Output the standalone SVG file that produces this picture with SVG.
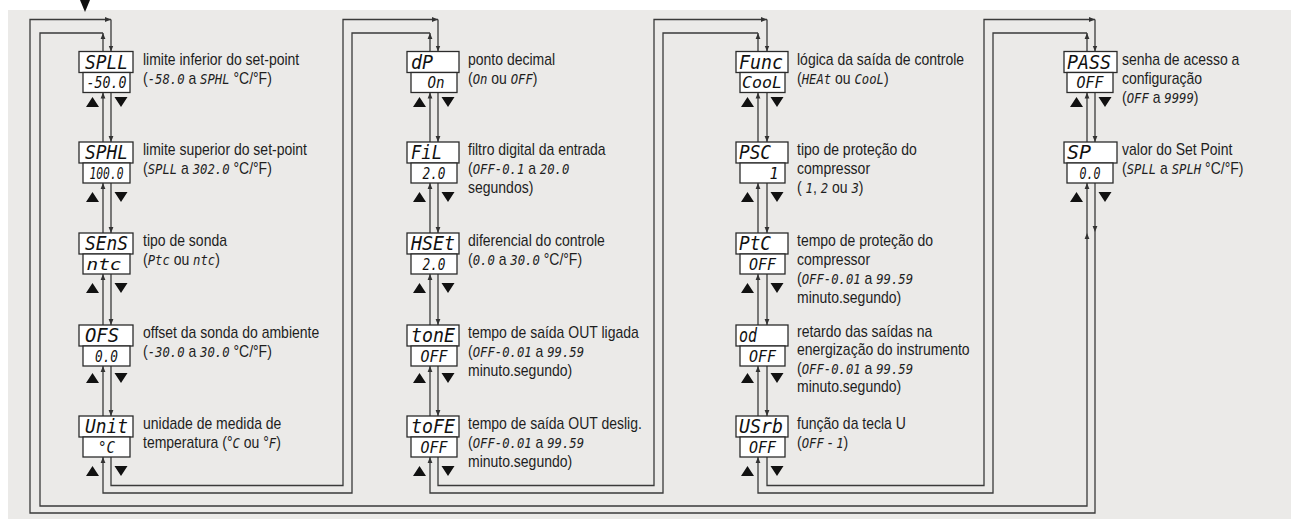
<svg xmlns="http://www.w3.org/2000/svg" width="1291" height="519" viewBox="0 0 1291 519">
<style>
.box{fill:#fff;stroke:#2b2b2b;stroke-width:1.3}
.ln{fill:none;stroke:#3a3a3a;stroke-width:1.3}
.tri{fill:#111}
.lbl{font-family:"Liberation Sans",Arial,sans-serif;font-size:16px;fill:#1e1e1e}
.seg{font-family:"DejaVu Sans Mono",monospace;font-style:italic;font-size:14px}
.dt{font-family:"DejaVu Sans Mono",monospace;font-style:italic;font-size:20px;fill:#111}
.dv{font-family:"DejaVu Sans Mono",monospace;font-style:italic;font-size:15px;fill:#111;text-anchor:middle}
</style>
<defs>
<marker id="ah" viewBox="0 0 6 6" refX="6" refY="3" markerWidth="6" markerHeight="6" markerUnits="userSpaceOnUse" orient="auto"><path d="M0,0.6 L6,3 L0,5.4z" fill="#333"/></marker>
</defs>
<rect x="0" y="0" width="1291" height="519" fill="#fff"/>
<rect x="8" y="10" width="1283" height="509" fill="#ebeae8"/>
<polygon points="80,0 90,0 85,12" fill="#111"/>

<g id="connectors">
<!-- column 1 internal -->
<path class="ln" marker-end="url(#ah)" d="M103,142 V92.5"/>
<path class="ln" marker-end="url(#ah)" d="M103,233 V183"/>
<path class="ln" marker-end="url(#ah)" d="M103,325 V274"/>
<path class="ln" marker-end="url(#ah)" d="M103,416 V366"/>
<path class="ln" marker-end="url(#ah)" d="M111,92.5 V142"/>
<path class="ln" marker-end="url(#ah)" d="M111,183 V233"/>
<path class="ln" marker-end="url(#ah)" d="M111,274 V325"/>
<path class="ln" marker-end="url(#ah)" d="M111,366 V416"/>
<!-- column 2 internal -->
<path class="ln" marker-end="url(#ah)" d="M430,142 V92.5"/>
<path class="ln" marker-end="url(#ah)" d="M430,233 V183"/>
<path class="ln" marker-end="url(#ah)" d="M430,325 V274"/>
<path class="ln" marker-end="url(#ah)" d="M430,416 V366"/>
<path class="ln" marker-end="url(#ah)" d="M438,92.5 V142"/>
<path class="ln" marker-end="url(#ah)" d="M438,183 V233"/>
<path class="ln" marker-end="url(#ah)" d="M438,274 V325"/>
<path class="ln" marker-end="url(#ah)" d="M438,366 V416"/>
<!-- column 3 internal -->
<path class="ln" marker-end="url(#ah)" d="M758,142 V92.5"/>
<path class="ln" marker-end="url(#ah)" d="M758,233 V183"/>
<path class="ln" marker-end="url(#ah)" d="M758,325 V274"/>
<path class="ln" marker-end="url(#ah)" d="M758,416 V366"/>
<path class="ln" marker-end="url(#ah)" d="M767,92.5 V142"/>
<path class="ln" marker-end="url(#ah)" d="M767,183 V233"/>
<path class="ln" marker-end="url(#ah)" d="M767,274 V325"/>
<path class="ln" marker-end="url(#ah)" d="M767,366 V416"/>
<!-- column 4 internal -->
<path class="ln" marker-end="url(#ah)" d="M1087,142 V92.5"/>
<path class="ln" marker-end="url(#ah)" d="M1095,92.5 V142"/>
<!-- wrap col4 -> col1 -->
<path class="ln" marker-end="url(#ah)" d="M1095,183 V232"/>
<path class="ln" marker-end="url(#ah)" d="M1095,232 V513 H30 V19.5 H111"/>
<path class="ln" marker-end="url(#ah)" d="M111,19.5 V51.5"/>
<path class="ln" marker-end="url(#ah)" d="M103,51.5 V33"/>
<path class="ln" marker-end="url(#ah)" d="M103,33 H40 V506 H1087 V233"/>
<path class="ln" marker-end="url(#ah)" d="M1087,233 V183"/>
<!-- col1 -> col2 -->
<path class="ln" marker-end="url(#ah)" d="M111,457 V485.5 H343 V19.5 H438"/>
<path class="ln" marker-end="url(#ah)" d="M438,19.5 V51.5"/>
<path class="ln" marker-end="url(#ah)" d="M430,51.5 V33"/>
<path class="ln" marker-end="url(#ah)" d="M430,33 H352 V493 H103 V457"/>
<!-- col2 -> col3 -->
<path class="ln" marker-end="url(#ah)" d="M438,457 V485.5 H654 V19.5 H767"/>
<path class="ln" marker-end="url(#ah)" d="M767,19.5 V51.5"/>
<path class="ln" marker-end="url(#ah)" d="M758,51.5 V33"/>
<path class="ln" marker-end="url(#ah)" d="M758,33 H663 V493 H430 V457"/>
<!-- col3 -> col4 -->
<path class="ln" marker-end="url(#ah)" d="M767,457 V485.5 H984 V19.5 H1095"/>
<path class="ln" marker-end="url(#ah)" d="M1095,19.5 V51.5"/>
<path class="ln" marker-end="url(#ah)" d="M1087,51.5 V33"/>
<path class="ln" marker-end="url(#ah)" d="M1087,33 H993 V493 H758 V457"/>
</g>

<!-- ===== Column 1 ===== -->
<g id="n-SPLL">
<rect class="box" x="79" y="51.5" width="54" height="21"/>
<rect class="box" x="83" y="72.5" width="47" height="20"/>
<text class="dt" x="85" y="68.5" textLength="43" lengthAdjust="spacingAndGlyphs">SPLL</text>
<text class="dv" x="106.5" y="88" textLength="40" lengthAdjust="spacingAndGlyphs">-50.0</text>
<path class="tri" d="M86,107 h13 l-6.5,-10z M114.5,97 h13 l-6.5,10z"/>
<g class="lbl" transform="translate(143 0) scale(0.875 1)"><text x="0" y="65">limite inferior do set-point</text><text x="0" y="84">(<tspan class="seg">-58.0</tspan> a <tspan class="seg">SPHL</tspan> °C/°F)</text></g>
</g>
<g id="n-SPHL">
<rect class="box" x="79" y="142" width="54" height="21"/>
<rect class="box" x="83" y="163" width="47" height="20"/>
<text class="dt" x="85" y="159" textLength="43" lengthAdjust="spacingAndGlyphs">SPHL</text>
<text class="dv" x="106.5" y="178.5" textLength="34" lengthAdjust="spacingAndGlyphs">100.0</text>
<path class="tri" d="M86,202 h13 l-6.5,-10z M114.5,192 h13 l-6.5,10z"/>
<g class="lbl" transform="translate(143 0) scale(0.875 1)"><text x="0" y="155.5">limite superior do set-point</text><text x="0" y="174.5">(<tspan class="seg">SPLL</tspan> a <tspan class="seg">302.0</tspan> °C/°F)</text></g>
</g>
<g id="n-SEnS">
<rect class="box" x="79" y="233" width="54" height="21"/>
<rect class="box" x="83" y="254" width="47" height="20"/>
<text class="dt" x="85" y="250" textLength="43" lengthAdjust="spacingAndGlyphs">SEnS</text>
<text class="dv" x="104" y="269.5" textLength="35" lengthAdjust="spacingAndGlyphs">ntc</text>
<path class="tri" d="M86,293 h13 l-6.5,-10z M114.5,283 h13 l-6.5,10z"/>
<g class="lbl" transform="translate(143 0) scale(0.875 1)"><text x="0" y="246.5">tipo de sonda</text><text x="0" y="265.5">(<tspan class="seg">Ptc</tspan> ou <tspan class="seg">ntc</tspan>)</text></g>
</g>
<g id="n-OFS">
<rect class="box" x="79" y="325" width="54" height="21"/>
<rect class="box" x="83" y="346" width="47" height="20"/>
<text class="dt" x="85" y="342" textLength="34" lengthAdjust="spacingAndGlyphs">OFS</text>
<text class="dv" x="106.5" y="361.5" textLength="23" lengthAdjust="spacingAndGlyphs">0.0</text>
<path class="tri" d="M86,383 h13 l-6.5,-10z M114.5,373 h13 l-6.5,10z"/>
<g class="lbl" transform="translate(143 0) scale(0.875 1)"><text x="0" y="338.5">offset da sonda do ambiente</text><text x="0" y="357.5">(<tspan class="seg">-30.0</tspan> a <tspan class="seg">30.0</tspan> °C/°F)</text></g>
</g>
<g id="n-Unit">
<rect class="box" x="79" y="416" width="54" height="21"/>
<rect class="box" x="83" y="437" width="47" height="20"/>
<text class="dt" x="85" y="433" textLength="43" lengthAdjust="spacingAndGlyphs">Unit</text>
<text class="dv" x="106.5" y="452.5" textLength="17" lengthAdjust="spacingAndGlyphs">°C</text>
<path class="tri" d="M86,476 h13 l-6.5,-10z M114.5,466 h13 l-6.5,10z"/>
<g class="lbl" transform="translate(143 0) scale(0.875 1)"><text x="0" y="429.5">unidade de medida de</text><text x="0" y="448.5">temperatura (°<tspan class="seg">C</tspan> ou °<tspan class="seg">F</tspan>)</text></g>
</g>

<!-- ===== Column 2 ===== -->
<g id="n-dP">
<rect class="box" x="407" y="51.5" width="52" height="21"/>
<rect class="box" x="411" y="72.5" width="46" height="20"/>
<text class="dt" x="411" y="68.5" textLength="22" lengthAdjust="spacingAndGlyphs">dP</text>
<text class="dv" x="436" y="88" textLength="17" lengthAdjust="spacingAndGlyphs">On</text>
<path class="tri" d="M413,107 h13 l-6.5,-10z M441.5,97 h13 l-6.5,10z"/>
<g class="lbl" transform="translate(468 0) scale(0.875 1)"><text x="0" y="65">ponto decimal</text><text x="0" y="84">(<tspan class="seg">On</tspan> ou <tspan class="seg">OFF</tspan>)</text></g>
</g>
<g id="n-FiL">
<rect class="box" x="407" y="142" width="52" height="21"/>
<rect class="box" x="411" y="163" width="46" height="20"/>
<text class="dt" x="411" y="159" textLength="31" lengthAdjust="spacingAndGlyphs">FiL</text>
<text class="dv" x="434" y="178.5" textLength="23" lengthAdjust="spacingAndGlyphs">2.0</text>
<path class="tri" d="M413,202 h13 l-6.5,-10z M441.5,192 h13 l-6.5,10z"/>
<g class="lbl" transform="translate(468 0) scale(0.875 1)"><text x="0" y="155.5">filtro digital da entrada</text><text x="0" y="174.3">(<tspan class="seg">OFF-0.1</tspan> a <tspan class="seg">20.0</tspan></text><text x="0" y="193.1">segundos)</text></g>
</g>
<g id="n-HSEt">
<rect class="box" x="407" y="233" width="52" height="21"/>
<rect class="box" x="411" y="254" width="46" height="20"/>
<text class="dt" x="411" y="250" textLength="44" lengthAdjust="spacingAndGlyphs">HSEt</text>
<text class="dv" x="434" y="269.5" textLength="23" lengthAdjust="spacingAndGlyphs">2.0</text>
<path class="tri" d="M413,293 h13 l-6.5,-10z M441.5,283 h13 l-6.5,10z"/>
<g class="lbl" transform="translate(468 0) scale(0.875 1)"><text x="0" y="246.5">diferencial do controle</text><text x="0" y="265.5">(<tspan class="seg">0.0</tspan> a <tspan class="seg">30.0</tspan> °C/°F)</text></g>
</g>
<g id="n-tonE">
<rect class="box" x="407" y="325" width="52" height="21"/>
<rect class="box" x="411" y="346" width="46" height="20"/>
<text class="dt" x="411" y="342" textLength="44" lengthAdjust="spacingAndGlyphs">tonE</text>
<text class="dv" x="434" y="361.5" textLength="27" lengthAdjust="spacingAndGlyphs">OFF</text>
<path class="tri" d="M413,383 h13 l-6.5,-10z M441.5,373 h13 l-6.5,10z"/>
<g class="lbl" transform="translate(468 0) scale(0.875 1)"><text x="0" y="338.5">tempo de saída OUT ligada</text><text x="0" y="357.3">(<tspan class="seg">OFF-0.01</tspan> a <tspan class="seg">99.59</tspan></text><text x="0" y="376.1">minuto.segundo)</text></g>
</g>
<g id="n-toFE">
<rect class="box" x="407" y="416" width="52" height="21"/>
<rect class="box" x="411" y="437" width="46" height="20"/>
<text class="dt" x="411" y="433" textLength="44" lengthAdjust="spacingAndGlyphs">toFE</text>
<text class="dv" x="434" y="452.5" textLength="27" lengthAdjust="spacingAndGlyphs">OFF</text>
<path class="tri" d="M413,476 h13 l-6.5,-10z M441.5,466 h13 l-6.5,10z"/>
<g class="lbl" transform="translate(468 0) scale(0.875 1)"><text x="0" y="429.5">tempo de saída OUT deslig.</text><text x="0" y="448.3">(<tspan class="seg">OFF-0.01</tspan> a <tspan class="seg">99.59</tspan></text><text x="0" y="467.1">minuto.segundo)</text></g>
</g>

<!-- ===== Column 3 ===== -->
<g id="n-Func">
<rect class="box" x="736" y="51.5" width="52" height="21"/>
<rect class="box" x="740" y="72.5" width="45" height="20"/>
<text class="dt" x="739" y="68.5" textLength="44" lengthAdjust="spacingAndGlyphs">Func</text>
<text class="dv" x="762" y="88" textLength="40" lengthAdjust="spacingAndGlyphs">CooL</text>
<path class="tri" d="M741,107 h13 l-6.5,-10z M770.5,97 h13 l-6.5,10z"/>
<g class="lbl" transform="translate(797 0) scale(0.875 1)"><text x="0" y="65">lógica da saída de controle</text><text x="0" y="84">(<tspan class="seg">HEAt</tspan> ou <tspan class="seg">CooL</tspan>)</text></g>
</g>
<g id="n-PSC">
<rect class="box" x="736" y="142" width="52" height="21"/>
<rect class="box" x="740" y="163" width="45" height="20"/>
<text class="dt" x="739" y="159" textLength="32" lengthAdjust="spacingAndGlyphs">PSC</text>
<text class="dv" x="774" y="178.5">1</text>
<path class="tri" d="M741,202 h13 l-6.5,-10z M770.5,192 h13 l-6.5,10z"/>
<g class="lbl" transform="translate(797 0) scale(0.875 1)"><text x="0" y="155.5">tipo de proteção do</text><text x="0" y="174.3">compressor</text><text x="0" y="193.1">( <tspan class="seg">1</tspan>, <tspan class="seg">2</tspan> ou <tspan class="seg">3</tspan>)</text></g>
</g>
<g id="n-PtC">
<rect class="box" x="736" y="233" width="52" height="21"/>
<rect class="box" x="740" y="254" width="45" height="20"/>
<text class="dt" x="739" y="250" textLength="32" lengthAdjust="spacingAndGlyphs">PtC</text>
<text class="dv" x="762.5" y="269.5" textLength="27" lengthAdjust="spacingAndGlyphs">OFF</text>
<path class="tri" d="M741,293 h13 l-6.5,-10z M770.5,283 h13 l-6.5,10z"/>
<g class="lbl" transform="translate(797 0) scale(0.875 1)"><text x="0" y="246.5">tempo de proteção do</text><text x="0" y="265.3">compressor</text><text x="0" y="284.1">(<tspan class="seg">OFF-0.01</tspan> a <tspan class="seg">99.59</tspan></text><text x="0" y="302.9">minuto.segundo)</text></g>
</g>
<g id="n-od">
<rect class="box" x="736" y="325" width="52" height="21"/>
<rect class="box" x="740" y="346" width="45" height="20"/>
<text class="dt" x="739" y="342" textLength="18" lengthAdjust="spacingAndGlyphs">od</text>
<text class="dv" x="762.5" y="361.5" textLength="27" lengthAdjust="spacingAndGlyphs">OFF</text>
<path class="tri" d="M741,383 h13 l-6.5,-10z M770.5,373 h13 l-6.5,10z"/>
<g class="lbl" transform="translate(797 0) scale(0.875 1)"><text x="0" y="337">retardo das saídas na</text><text x="0" y="355.5">energização do instrumento</text><text x="0" y="374">(<tspan class="seg">OFF-0.01</tspan> a <tspan class="seg">99.59</tspan></text><text x="0" y="392.5">minuto.segundo)</text></g>
</g>
<g id="n-USrb">
<rect class="box" x="736" y="416" width="52" height="21"/>
<rect class="box" x="740" y="437" width="45" height="20"/>
<text class="dt" x="739" y="433" textLength="44" lengthAdjust="spacingAndGlyphs">USrb</text>
<text class="dv" x="762.5" y="452.5" textLength="27" lengthAdjust="spacingAndGlyphs">OFF</text>
<path class="tri" d="M741,476 h13 l-6.5,-10z M770.5,466 h13 l-6.5,10z"/>
<g class="lbl" transform="translate(797 0) scale(0.875 1)"><text x="0" y="429.5">função da tecla U</text><text x="0" y="448.5">(<tspan class="seg">OFF</tspan> -  <tspan class="seg">1</tspan>)</text></g>
</g>

<!-- ===== Column 4 ===== -->
<g id="n-PASS">
<rect class="box" x="1064" y="51.5" width="53" height="21"/>
<rect class="box" x="1067" y="72.5" width="46" height="20"/>
<text class="dt" x="1067" y="68.5" textLength="44" lengthAdjust="spacingAndGlyphs">PASS</text>
<text class="dv" x="1090" y="88" textLength="27" lengthAdjust="spacingAndGlyphs">OFF</text>
<path class="tri" d="M1070,107 h13 l-6.5,-10z M1098.5,97 h13 l-6.5,10z"/>
<g class="lbl" transform="translate(1122 0) scale(0.875 1)"><text x="0" y="65">senha de acesso a</text><text x="0" y="83.8">configuração</text><text x="0" y="102.6">(<tspan class="seg">OFF</tspan> a <tspan class="seg">9999</tspan>)</text></g>
</g>
<g id="n-SP">
<rect class="box" x="1064" y="142" width="53" height="21"/>
<rect class="box" x="1067" y="163" width="46" height="20"/>
<text class="dt" x="1067" y="159" textLength="24" lengthAdjust="spacingAndGlyphs">SP</text>
<text class="dv" x="1090" y="178.5" textLength="21" lengthAdjust="spacingAndGlyphs">0.0</text>
<path class="tri" d="M1070,202 h13 l-6.5,-10z M1098.5,192 h13 l-6.5,10z"/>
<g class="lbl" transform="translate(1122 0) scale(0.875 1)"><text x="0" y="155.5">valor do Set Point</text><text x="0" y="174.5">(<tspan class="seg">SPLL</tspan> a <tspan class="seg">SPLH</tspan> °C/°F)</text></g>
</g>
</svg>
